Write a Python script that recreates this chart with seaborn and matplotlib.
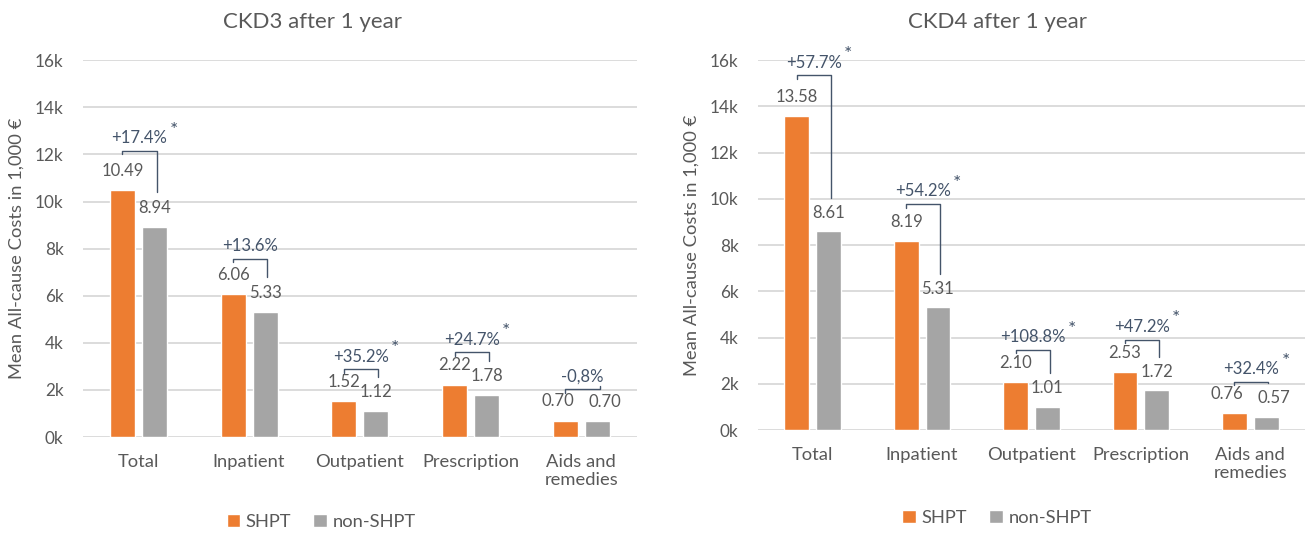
import matplotlib
matplotlib.use("Agg")
import matplotlib.pyplot as plt
import seaborn as sns
import pandas as pd

# ---- data ----
categories = ["Total", "Inpatient", "Outpatient", "Prescription", "Aids and\nremedies"]
groups = ["SHPT", "non-SHPT"]

ckd3_shpt = [10.49, 6.06, 1.52, 2.22, 0.70]
ckd3_non = [8.94, 5.33, 1.12, 1.78, 0.70]
ckd3_pct = ["+17.4%", "+13.6%", "+35.2%", "+24.7%", "-0,8%"]
ckd3_sig = [True, False, True, True, False]

ckd4_shpt = [13.58, 8.19, 2.10, 2.53, 0.76]
ckd4_non = [8.61, 5.31, 1.01, 1.72, 0.57]
ckd4_pct = ["+57.7%", "+54.2%", "+108.8%", "+47.2%", "+32.4%"]
ckd4_sig = [True, True, True, True, True]

titles = ["CKD3 after 1 year", "CKD4 after 1 year"]
yticks = [0, 2, 4, 6, 8, 10, 12, 14, 16]
ytick_labels = [f"{t}k" for t in yticks]
ylabel = "Mean All-cause Costs in 1,000 \u20ac"

# ---- style ----
sns.set_theme(style="white")
plt.rcParams["font.family"] = ["Lato", "DejaVu Sans"]
TXT = "#595959"
ANN = "#44546A"
GRID = "#D9D9D9"
FC = 13.2     # category labels / legend / axis label
FT = 12.3     # y tick labels
FV = 12.0     # value labels
palette = {"SHPT": "#ED7D31", "non-SHPT": "#A5A5A5"}

fig = plt.figure(figsize=(13.09, 5.33), dpi=100)
ax1 = fig.add_axes([0.0634, 0.180, 0.423, 0.707])
ax2 = fig.add_axes([0.579, 0.193, 0.418, 0.694])

panels = [
    (ax1, ckd3_shpt, ckd3_non, ckd3_pct, ckd3_sig, titles[0], 0.415, 0.43, -0.16),
    (ax2, ckd4_shpt, ckd4_non, ckd4_pct, ckd4_sig, titles[1], 0.437, 0.437, -0.17),
]

for ax, shpt, non, pct, sig, title, tx, lx, ly in panels:
    df = pd.DataFrame({
        "category": categories * 2,
        "group": [groups[0]] * len(categories) + [groups[1]] * len(categories),
        "value": list(shpt) + list(non),
    })
    sns.barplot(data=df, x="category", y="value", hue="group", hue_order=groups,
                palette=palette, width=0.58, gap=0.22, saturation=1,
                ax=ax, zorder=3)
    ax.set_ylim(0, 16)
    ax.set_xlim(-0.5, 4.5)
    ax.set_yticks(yticks)
    ax.set_yticklabels(ytick_labels)
    ax.yaxis.grid(True, color=GRID, linewidth=1.3, zorder=0)
    ax.set_axisbelow(True)
    for s in ax.spines.values():
        s.set_visible(False)
    ax.tick_params(axis="both", length=0, colors=TXT)
    ax.tick_params(axis="x", pad=12, labelsize=FC)
    ax.tick_params(axis="y", pad=14, labelsize=FT)
    ax.set_xlabel("")
    ax.set_ylabel(ylabel, fontsize=FC, color=TXT, labelpad=7)
    ax.set_title(title, fontsize=16, color=TXT, x=tx, pad=23)

    # value labels and brackets
    c_s, c_n = ax.containers[0], ax.containers[1]
    for i in range(len(categories)):
        ps, pn = c_s[i], c_n[i]
        xs = ps.get_x() + ps.get_width() / 2
        xn = pn.get_x() + pn.get_width() / 2
        vs, vn = ps.get_height(), pn.get_height()
        shift = 0.07 if abs(vs - vn) < 0.3 else 0.0
        ax.text(xs - shift, vs + 0.82, f"{vs:.2f}", ha="center", va="center",
                fontsize=FV, color=TXT, zorder=5)
        ax.text(xn + shift, vn + 0.80, f"{vn:.2f}", ha="center", va="center",
                fontsize=FV, color=TXT, zorder=5)
        top = max(vs, vn)
        yb = top + 1.3 + 0.035 * top
        xr = xn + 0.02
        ax.plot([xs, xs, xr, xr], [yb - 0.15, yb, yb, vn + 1.45],
                color=ANN, linewidth=1.0, zorder=4)
        t = ax.text((xs + xr) / 2, yb + 0.2, pct[i], ha="center", va="bottom",
                    fontsize=FV, color=ANN, zorder=5)
        if sig[i]:
            ax.annotate("*", xy=(1, 1), xycoords=t, xytext=(1.5, 0),
                        textcoords="offset points", ha="left", va="center",
                        fontsize=14, color=ANN)

    h, l = ax.get_legend_handles_labels()
    ax.legend(h, l, loc="upper center", bbox_to_anchor=(lx, ly), ncol=2,
              frameon=False, fontsize=FC, handlelength=0.75, handleheight=0.75,
              handletextpad=0.3, columnspacing=1.2, labelcolor=TXT)

fig.savefig("out.png", dpi=100)
